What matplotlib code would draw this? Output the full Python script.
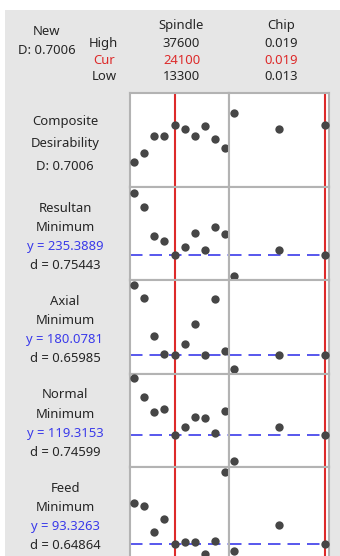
import matplotlib
matplotlib.use("Agg")
import matplotlib.pyplot as plt
from matplotlib.patches import Rectangle

plt.rcParams['font.family'] = ['Noto Sans', 'DejaVu Sans']

# ---- data -------------------------------------------------------------
factor_names = ["Spindle", "Chip"]
high_settings = ["37600", "0.019"]
cur_settings = ["24100", "0.019"]
low_settings = ["13300", "0.013"]

spindle_levels = [13300, 16000, 18700, 21400, 24100, 26800, 29500, 32200, 34900, 37600]
chip_levels = [0.013, 0.016, 0.019]
spindle_cur = 24100
chip_cur = 0.019

composite_D = 0.7006
composite_spindle = [0.440, 0.500, 0.619, 0.619, 0.7006, 0.668, 0.619, 0.692, 0.598, 0.538]
composite_chip = [0.783, 0.668, 0.7006]

response_names = ["Resultan", "Axial", "Normal", "Feed"]
response_goals = ["Minimum", "Minimum", "Minimum", "Minimum"]
response_y = [235.3889, 180.0781, 119.3153, 93.3263]
response_d = [0.75443, 0.65985, 0.74599, 0.64864]

resultan_spindle = [423.2, 381.2, 293.3, 276.2, 235.3889, 258.2, 303.2, 251.3, 320.3, 298.4]
resultan_chip = [173.3, 251.3, 235.3889]
axial_spindle = [353.3, 320.8, 226.6, 182.6, 180.0781, 205.1, 255.1, 180.1, 317.6, 188.3]
axial_chip = [145.1, 179.5, 180.0781]
normal_spindle = [205.7, 177.2, 153.8, 158.8, 119.3153, 132.2, 147.2, 145.7, 123.2, 156.2]
normal_chip = [80.8, 132.2, 119.3153]
feed_spindle = [141.8, 138.6, 107.0, 123.3, 93.3263, 95.0, 95.0, 80.6, 96.6, 179.7]
feed_chip = [84.6, 115.8, 93.3263]

spindle_series = [composite_spindle, resultan_spindle, axial_spindle, normal_spindle, feed_spindle]
chip_series = [composite_chip, resultan_chip, axial_chip, normal_chip, feed_chip]

# ---- layout / style ---------------------------------------------------
W, H = 340, 556
fig = plt.figure(figsize=(W / 100, H / 100), dpi=100)
fig.patch.set_facecolor("white")

def fx(x):
    return x / W

def fy(y):
    return 1 - y / H

BG = "#e6e6e6"
GRID = "#b3b3b3"
RED = "#dd2a2a"
BLUE = "#3b3bea"
DOT = "#464646"
TXT = "#262626"

fig.add_artist(Rectangle((fx(5), fy(H + 5)), fx(W - 5), (H - 10 + 5) / H,
                         transform=fig.transFigure, facecolor=BG,
                         edgecolor="none", zorder=0))

row_top = [93.3, 186.7, 280.4, 373.6, 467.2]
row_h = 93.4
col_x = [(130.0, 229.3), (229.3, 329.3)]
xlims = [(12235, 38665), (0.01270, 0.01930)]
ylims = [(0.2666, 0.9204), (159.8, 441.2), (132.1, 364.6), (71.3, 212.0), (73.05, 185.1)]

for r in range(5):
    for c in range(2):
        x0, x1 = col_x[c]
        ax = fig.add_axes([fx(x0), fy(row_top[r] + row_h), (x1 - x0) / W, row_h / H])
        ax.set_facecolor("white")
        ax.set_xlim(*xlims[c])
        ax.set_ylim(*ylims[r])
        ax.set_xticks([])
        ax.set_yticks([])
        for s in ax.spines.values():
            s.set_color(GRID)
            s.set_linewidth(1.5)
        levels = spindle_levels if c == 0 else chip_levels
        values = spindle_series[r] if c == 0 else chip_series[r]
        cur = spindle_cur if c == 0 else chip_cur
        ax.axvline(cur, color=RED, lw=1.5, zorder=2)
        if r > 0:
            ax.axhline(response_y[r - 1], color=BLUE, lw=1.2,
                       linestyle=(0, (7.5, 4.2)), zorder=2)
        ax.plot(levels, values, "o", ms=6.0, color=DOT, mew=0, zorder=3)

# ---- header text --------------------------------------------------------
fs = 9.4
fig.text(fx(47), fy(31.5), "New", ha="center", va="center", fontsize=fs, color=TXT)
fig.text(fx(47), fy(50), "D: 0.7006", ha="center", va="center", fontsize=fs, color=TXT)
fig.text(fx(103), fy(43.5), "High", ha="center", va="center", fontsize=fs, color=TXT)
fig.text(fx(104), fy(60), "Cur", ha="center", va="center", fontsize=fs, color=RED)
fig.text(fx(104), fy(77), "Low", ha="center", va="center", fontsize=fs, color=TXT)
for name, hi, cu, lo, xc in zip(factor_names, high_settings, cur_settings,
                                low_settings, [181.5, 281.5]):
    fig.text(fx(xc), fy(25), name, ha="center", va="center", fontsize=fs, color=TXT)
    fig.text(fx(xc), fy(43.5), hi, ha="center", va="center", fontsize=fs, color=TXT)
    fig.text(fx(xc), fy(60), cu, ha="center", va="center", fontsize=fs, color=RED)
    fig.text(fx(xc), fy(77), lo, ha="center", va="center", fontsize=fs, color=TXT)

# ---- row labels ---------------------------------------------------------
lx = 65
fig.text(fx(lx), fy(121.7), "Composite", ha="center", va="center", fontsize=fs, color=TXT)
fig.text(fx(lx), fy(143.3), "Desirability", ha="center", va="center", fontsize=fs, color=TXT)
fig.text(fx(lx), fy(166.5), f"D: {composite_D:.4f}", ha="center", va="center",
         fontsize=fs, color=TXT)

label_top = [208.3, 301.7, 395.0, 488.3]
for name, goal, yv, dv, yt in zip(response_names, response_goals, response_y,
                                  response_d, label_top):
    fig.text(fx(lx), fy(yt), name, ha="center", va="center", fontsize=fs, color=TXT)
    fig.text(fx(lx), fy(yt + 19), goal, ha="center", va="center", fontsize=fs, color=TXT)
    fig.text(fx(lx), fy(yt + 38), f"y = {yv:.4f}", ha="center", va="center",
             fontsize=fs, color=BLUE)
    fig.text(fx(lx), fy(yt + 57), f"d = {dv:.5f}", ha="center", va="center",
             fontsize=fs, color=TXT)

fig.savefig("out.png", dpi=100, facecolor=fig.get_facecolor())
